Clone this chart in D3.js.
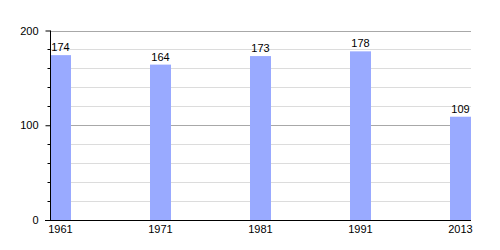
<!DOCTYPE html>
<html>
<head>
<meta charset="utf-8">
<script src="https://cdn.jsdelivr.net/npm/d3@7"></script>
<style>
  body { margin: 0; background: #fff; }
  text { font-family: "Liberation Sans", Arial, sans-serif; font-size: 11px; fill: #000; }
</style>
</head>
<body>
<div id="chart"></div>
<script>
const years = ["1961", "1971", "1981", "1991", "2013"];
const population = [174, 164, 173, 178, 109];
const majorTicks = [0, 100, 200];
const minorTicks = [20, 40, 60, 80, 120, 140, 160, 180];

const W = 500, H = 250;
const plotLeft = 50, plotRight = 471, plotTop = 30.5, plotBottom = 220;

const svg = d3.select("#chart").append("svg")
  .attr("width", W).attr("height", H);

const x = d3.scaleBand()
  .domain(years)
  .range([plotLeft, plotRight])
  .paddingInner(0.79)
  .paddingOuter(0);

const y = d3.scaleLinear().domain([0, 200]).range([plotBottom, plotTop]);
const py = d => Math.round(y(d)) + 0.5;

// grid
svg.append("g").selectAll("line")
  .data(minorTicks).join("line")
  .attr("x1", plotLeft).attr("x2", plotRight)
  .attr("y1", py).attr("y2", py)
  .attr("stroke", "#dcdcdc");

svg.append("g").selectAll("line")
  .data(majorTicks.filter(d => d > 0)).join("line")
  .attr("x1", plotLeft).attr("x2", plotRight)
  .attr("y1", py).attr("y2", py)
  .attr("stroke", "#a8a8a8");

// bars
svg.append("g").selectAll("rect")
  .data(years).join("rect")
  .attr("x", d => x(d))
  .attr("width", x.bandwidth())
  .attr("y", (d, i) => y(population[i]))
  .attr("height", (d, i) => plotBottom - y(population[i]))
  .attr("fill", "#99aaff");

// value labels
svg.append("g").selectAll("text")
  .data(years).join("text")
  .attr("x", d => x(d) + x.bandwidth() / 2)
  .attr("y", (d, i) => y(population[i]) - 4)
  .attr("text-anchor", "middle")
  .text((d, i) => population[i]);

// y axis
const yAxis = d3.axisLeft(y).tickValues(majorTicks).tickSize(5).tickPadding(7);
const gy = svg.append("g").attr("transform", `translate(${plotLeft + 0.5},0)`).call(yAxis);
gy.select(".domain").remove();
gy.attr("font-family", null).attr("font-size", null);
gy.selectAll(".tick line").attr("stroke", "#000");
gy.selectAll(".tick text").attr("fill", "#000");
gy.append("line").attr("y1", plotTop).attr("y2", plotBottom).attr("stroke", "#000");
gy.append("g").selectAll("line").data(minorTicks).join("line")
  .attr("x1", -3).attr("x2", 0)
  .attr("y1", py).attr("y2", py)
  .attr("stroke", "#000");

// x axis
svg.append("line")
  .attr("x1", plotLeft - 5).attr("x2", plotRight)
  .attr("y1", plotBottom + 0.5).attr("y2", plotBottom + 0.5)
  .attr("stroke", "#000");

svg.append("g").selectAll("text")
  .data(years).join("text")
  .attr("x", d => x(d) + x.bandwidth() / 2)
  .attr("y", plotBottom + 13)
  .attr("text-anchor", "middle")
  .text(d => d);
</script>
</body>
</html>
